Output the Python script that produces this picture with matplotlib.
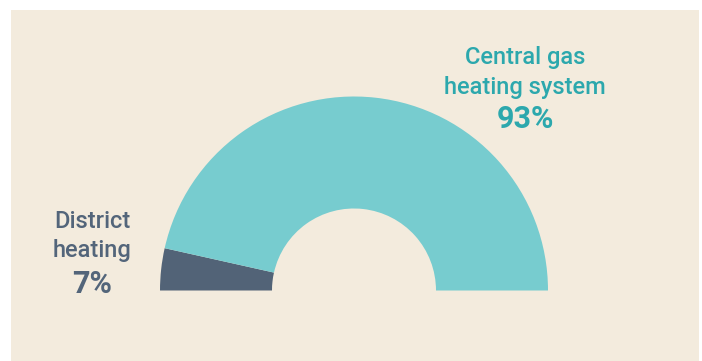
import matplotlib
matplotlib.use("Agg")
import matplotlib.pyplot as plt
from matplotlib.patches import Rectangle

categories = ["District\nheating", "Central gas\nheating system"]
values = [7, 93]
pct_labels = ["7%", "93%"]

W, H = 702, 361
fig = plt.figure(figsize=(W / 100, H / 100), dpi=100)
fig.patch.set_facecolor("white")
ax = fig.add_axes([0, 0, 1, 1])

bg = "#F3EBDD"
ax.add_patch(Rectangle((11, 0), 688, H - 10, facecolor=bg, edgecolor="none", zorder=0))

teal = "#77CCCF"
dark = "#526377"
teal_txt = "#2CA8AD"
dark_txt = "#53657A"

cx, cy = 354, H - 290.5
R, r = 194, 82
ax.pie(values + [sum(values)], colors=[dark, teal, "none"], startangle=180,
       counterclock=False, radius=R, center=(cx, cy),
       wedgeprops=dict(width=R - r, edgecolor="none", linewidth=0),
       frame=True)
ax.set_xlim(0, W)
ax.set_ylim(0, H)
ax.set_aspect("equal")
ax.axis("off")

fam = ["Roboto", "DejaVu Sans"]
ax.text(525, H - 72.5, categories[1], ha="center", va="center", fontsize=17,
        color=teal_txt, family=fam, weight="medium", linespacing=1.35)
ax.text(525, H - 119.5, pct_labels[1], ha="center", va="center", fontsize=22,
        color=teal_txt, family=fam, weight="bold")
ax.text(92, H - 236, categories[0], ha="center", va="center", fontsize=17,
        color=dark_txt, family=fam, weight="medium", linespacing=1.35)
ax.text(92, H - 284, pct_labels[0], ha="center", va="center", fontsize=22,
        color=dark_txt, family=fam, weight="bold")

fig.savefig("out.png", dpi=100, facecolor=fig.get_facecolor())
